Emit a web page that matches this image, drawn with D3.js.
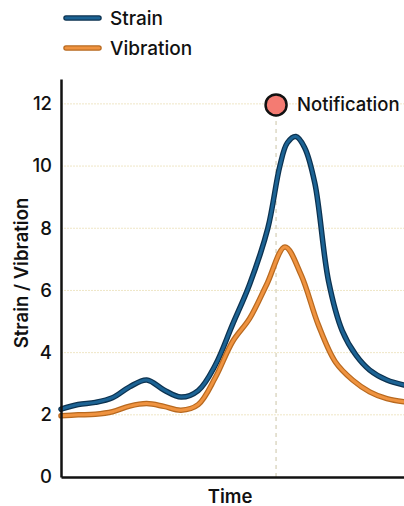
<!DOCTYPE html>
<html>
<head>
<meta charset="utf-8">
<script src="https://cdn.jsdelivr.net/npm/d3@7"></script>
<style>
  body { margin: 0; background: #fff; }
  svg text { font-family: Inter, "Open Sans", sans-serif; fill: #111; }
</style>
</head>
<body>
<div id="chart"></div>
<script>
// time samples (arbitrary units 0..100)
const strainTimes = [0, 5, 10, 15, 20, 25, 30, 35, 40, 45, 50, 55, 60.3, 63.8, 66, 68.5, 71, 74, 78, 82, 86, 90, 95, 100];
const strain = [2.18, 2.33, 2.4, 2.55, 2.9, 3.12, 2.8, 2.57, 2.78, 3.6, 4.9, 6.2, 8.0, 10.0, 10.75, 10.95, 10.6, 9.45, 6.3, 4.7, 3.92, 3.44, 3.12, 2.96];
const vibrationTimes = [0, 5, 10, 15, 20, 25, 30, 35, 40, 45, 50, 55, 60, 65.3, 70, 75, 80, 85, 90, 95, 100];
const vibration = [1.97, 2.0, 2.02, 2.1, 2.28, 2.36, 2.27, 2.15, 2.33, 3.2, 4.35, 5.1, 6.2, 7.4, 6.5, 4.9, 3.7, 3.12, 2.74, 2.52, 2.42];
const yTicks = [0, 2, 4, 6, 8, 10, 12];
const notifyTime = 62.7;
const notifyLabel = "Notification";

const series = [
  { name: "Strain", times: strainTimes, values: strain, color: "#1c6394", edge: "#0c3250" },
  { name: "Vibration", times: vibrationTimes, values: vibration, color: "#ef9340", edge: "#b8691f" },
];

const W = 404, H = 506;
const svg = d3.select("#chart").append("svg").attr("width", W).attr("height", H);

const x = d3.scaleLinear().domain([0, 100]).range([61, 404]);
const y = d3.scaleLinear().domain([0, 12.8]).range([477, 79]);

// grid
svg.append("g")
  .selectAll("line")
  .data(yTicks.filter((d) => d > 0))
  .enter()
  .append("line")
  .attr("x1", x(0))
  .attr("x2", x(100))
  .attr("y1", (d) => y(d))
  .attr("y2", (d) => y(d))
  .attr("stroke", "#efe6c6")
  .attr("stroke-width", 1)
  .attr("stroke-dasharray", "2,1");

// notification line
svg.append("line")
  .attr("x1", x(notifyTime))
  .attr("x2", x(notifyTime))
  .attr("y1", y(0))
  .attr("y2", y(12))
  .attr("stroke", "#ddd8c4")
  .attr("stroke-width", 1.5)
  .attr("stroke-dasharray", "4,4");

// lines
series.forEach((s) => {
  const line = d3.line()
    .x((d, i) => x(s.times[i]))
    .y((d) => y(d))
    .curve(d3.curveCatmullRom.alpha(0.5));
  svg.append("path")
    .attr("d", line(s.values))
    .attr("fill", "none")
    .attr("stroke", s.edge)
    .attr("stroke-width", 5.5)
    .attr("stroke-linecap", "round");
  svg.append("path")
    .attr("d", line(s.values))
    .attr("fill", "none")
    .attr("stroke", s.color)
    .attr("stroke-width", 3)
    .attr("stroke-linecap", "round");
});

// axes
const yAxis = svg.append("g")
  .attr("transform", `translate(${x(0)},0)`)
  .call(d3.axisLeft(y).tickValues(yTicks).tickSize(0).tickPadding(9));
yAxis.select(".domain").attr("stroke", "#111").attr("stroke-width", 2.5);
yAxis.selectAll("text").style("font-size", "18.5px").style("font-weight", 500).attr("fill", "#111");

const xAxis = svg.append("g")
  .attr("transform", `translate(0,${y(0)})`)
  .call(d3.axisBottom(x).tickValues([]).tickSizeOuter(0));
xAxis.select(".domain").attr("stroke", "#111").attr("stroke-width", 2.5);

// axis titles
svg.append("text")
  .attr("transform", `translate(22,273) rotate(-90)`)
  .attr("text-anchor", "middle")
  .attr("dy", "0.35em")
  .style("font-size", "18.5px")
  .style("font-weight", 600)
  .text("Strain / Vibration");

svg.append("text")
  .attr("x", 230)
  .attr("y", 497)
  .attr("text-anchor", "middle")
  .attr("dy", "0.35em")
  .style("font-size", "18.5px")
  .style("font-weight", 600)
  .text("Time");

// notification marker
svg.append("circle")
  .attr("cx", x(notifyTime))
  .attr("cy", y(12) + 1)
  .attr("r", 10.5)
  .attr("fill", "#f47b72")
  .attr("stroke", "#111")
  .attr("stroke-width", 2.5);

svg.append("text")
  .attr("x", x(notifyTime) + 21)
  .attr("y", y(12) + 1)
  .attr("dy", "0.35em")
  .style("font-size", "18.5px")
  .style("font-weight", 500)
  .text(notifyLabel);

// legend
const legend = svg.append("g")
  .selectAll("g")
  .data(series)
  .enter()
  .append("g")
  .attr("transform", (d, i) => `translate(0,${18 + i * 30})`);

legend.append("line")
  .attr("x1", 66).attr("x2", 99)
  .attr("stroke", (d) => d.edge)
  .attr("stroke-width", 5.5)
  .attr("stroke-linecap", "round");
legend.append("line")
  .attr("x1", 66).attr("x2", 99)
  .attr("stroke", (d) => d.color)
  .attr("stroke-width", 3)
  .attr("stroke-linecap", "round");
legend.append("text")
  .attr("x", 110)
  .attr("dy", "0.35em")
  .style("font-size", "19px")
  .style("font-weight", 500)
  .text((d) => d.name);
</script>
</body>
</html>
